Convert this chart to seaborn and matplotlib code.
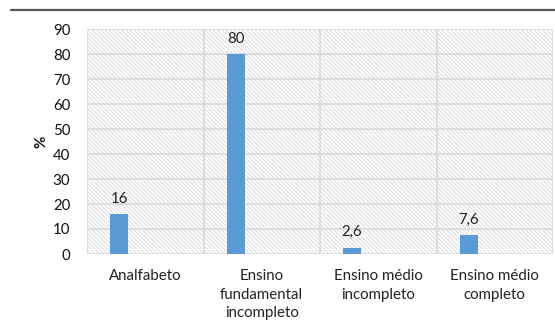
import matplotlib
matplotlib.use("Agg")
import matplotlib.pyplot as plt
from matplotlib.patches import Rectangle
from matplotlib.lines import Line2D
import seaborn as sns
import pandas as pd

categories = ["Analfabeto", "Ensino\nfundamental\nincompleto",
              "Ensino médio\nincompleto", "Ensino médio\ncompleto"]
values = [16, 80, 2.6, 7.6]
value_labels = ["16", "80", "2,6", "7,6"]
yticks = [0, 10, 20, 30, 40, 50, 60, 70, 80, 90]

sns.set_theme(style="white")
plt.rcParams['font.family'] = ['Lato', 'DejaVu Sans']
plt.rcParams['hatch.linewidth'] = 0.6

fig = plt.figure(figsize=(5.55, 3.29), dpi=100)
ax = fig.add_axes([87/555, 1-254/329, (553-87)/555, (254-29)/329])

df = pd.DataFrame({"cat": categories, "val": values})
sns.barplot(data=df, x="cat", y="val", color="#5B9BD5", width=0.155,
            saturation=1, ax=ax, zorder=3)
for p in ax.patches:
    p.set_x(p.get_x() - 0.225)
    p.set_linewidth(0)

ax.bar_label(ax.containers[0], labels=value_labels, padding=6,
             fontsize=10.8, color="#222222")

bg = Rectangle((0, 0), 1, 1, transform=ax.transAxes, facecolor="white",
               edgecolor="#d6d6d6", hatch="\\\\\\\\\\\\\\\\", lw=0, zorder=0)
ax.add_patch(bg)

ax.set_xlim(-0.5, 3.5)
ax.set_ylim(0, 90)
ax.set_yticks(yticks)
ax.set_xticks(range(len(categories)))
ax.set_xticklabels(categories, linespacing=1.4)
for y in yticks:
    ax.axhline(y, color="#d9d9d9", lw=1.2, zorder=1)
for x in [-0.5, 0.5, 1.5, 2.5, 3.5]:
    ax.axvline(x, color="#d9d9d9", lw=1.2, zorder=1)

for s in ax.spines.values():
    s.set_visible(False)

ax.tick_params(axis="y", length=0, pad=12, labelsize=10.8, labelcolor="#111111")
ax.tick_params(axis="x", length=0, pad=11, labelsize=10.8, labelcolor="#222222")
ax.set_xlabel("")
ax.set_ylabel("%", fontsize=10.8, fontweight="bold", labelpad=3, color="#111111")

fig.add_artist(Line2D([11/555, 1.0], [1-10/329, 1-10/329], color="#595959",
                      lw=1.6, transform=fig.transFigure))

fig.savefig("out.png", dpi=100)
